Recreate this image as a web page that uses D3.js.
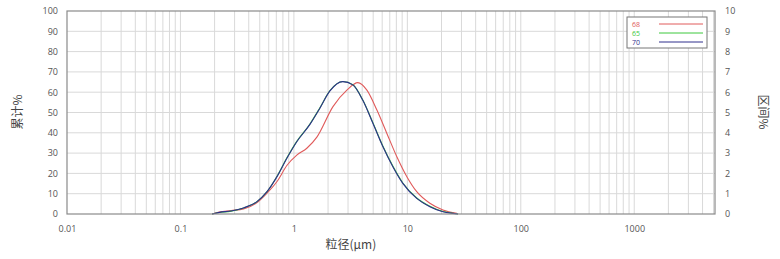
<!DOCTYPE html>
<html>
<head>
<meta charset="utf-8">
<script src="https://cdn.jsdelivr.net/npm/d3@7"></script>
<style>
  body { margin: 0; background: #fff; }
  text { font-family: "Noto Sans CJK SC", "Open Sans", sans-serif; }
</style>
</head>
<body>
<svg id="chart" width="780" height="259"></svg>
<script>
// series data: particle size (um) and interval %
var sizes68 = [0.19, 0.22, 0.28, 0.36, 0.47, 0.58, 0.71, 0.87, 1.06, 1.30, 1.60, 2.21, 2.93, 3.66, 4.40, 5.39, 6.60, 8.08, 9.90, 12.1, 15.8, 20.6, 27.3];
var vals68  = [0, 0.1, 0.17, 0.25, 0.55, 1.03, 1.6, 2.4, 2.9, 3.24, 3.8, 5.29, 6.1, 6.47, 6.1, 5.12, 3.97, 2.82, 1.84, 1.1, 0.53, 0.2, 0.03];
var sizes65 = [0.19, 0.22, 0.28, 0.36, 0.47, 0.58, 0.71, 0.87, 1.06, 1.38, 1.69, 2.07, 2.70, 3.31, 4.05, 4.97, 6.08, 7.45, 9.12, 12.1, 15.8, 20.6, 25.2, 28];
var vals65  = [0, 0.07, 0.14, 0.3, 0.6, 1.1, 1.86, 2.78, 3.58, 4.42, 5.22, 6.07, 6.53, 6.37, 5.62, 4.5, 3.35, 2.36, 1.53, 0.79, 0.38, 0.12, 0.04, 0];
var sizes70 = [0.19, 0.22, 0.28, 0.36, 0.47, 0.58, 0.71, 0.87, 1.06, 1.38, 1.69, 2.07, 2.70, 3.31, 4.05, 4.97, 6.08, 7.45, 9.12, 12.1, 15.8, 20.6, 25.2, 28];
var vals70  = [0, 0.08, 0.15, 0.3, 0.6, 1.1, 1.84, 2.76, 3.56, 4.4, 5.2, 6.05, 6.52, 6.36, 5.6, 4.47, 3.32, 2.33, 1.51, 0.77, 0.36, 0.11, 0.03, 0];
var seriesNames = ['68', '65', '70'];
var seriesColors = ['#e05a5a', '#3cc83c', '#2e2e8c'];
var xTickVals = [0.01, 0.1, 1, 10, 100, 1000];
var xTickLbls = ['0.01', '0.1', '1', '10', '100', '1000'];
var leftTicks = [0, 10, 20, 30, 40, 50, 60, 70, 80, 90, 100];
var rightTicks = [0, 1, 2, 3, 4, 5, 6, 7, 8, 9, 10];

var svg = d3.select('#chart'),
    margin = { left: 67, top: 11, right: 65, bottom: 45 },
    width = 780 - margin.left - margin.right,
    height = 259 - margin.top - margin.bottom;

var x = d3.scaleLog().domain([0.01, 5150]).range([0, width]);
var yL = d3.scaleLinear().domain([0, 100]).range([height, 0]);
var yR = d3.scaleLinear().domain([0, 10]).range([height, 0]);

var g = svg.append('g').attr('transform', 'translate(' + margin.left + ',' + margin.top + ')');

// vertical grid: 1..9 in every decade
var gridX = [];
for (var d = -2; d <= 3; d++) {
    for (var m = 1; m <= 9; m++) {
        var v = m * Math.pow(10, d);
        if (v > 0.01 && v < 5150) gridX.push(v);
    }
}
g.append('g').selectAll('line')
    .data(gridX)
    .enter().append('line')
    .attr('x1', function (d) { return x(d); })
    .attr('x2', function (d) { return x(d); })
    .attr('y1', 0)
    .attr('y2', height)
    .attr('stroke', '#d9d9d9')
    .attr('stroke-width', 1);

// horizontal grid
g.append('g').selectAll('line')
    .data(leftTicks.slice(1, -1))
    .enter().append('line')
    .attr('x1', 0)
    .attr('x2', width)
    .attr('y1', function (d) { return yL(d); })
    .attr('y2', function (d) { return yL(d); })
    .attr('stroke', '#d9d9d9')
    .attr('stroke-width', 1);

// curves
var line = d3.line()
    .x(function (d) { return x(d[0]); })
    .y(function (d) { return yR(d[1]); })
    .curve(d3.curveMonotoneX);
var series = [
    d3.zip(sizes68, vals68),
    d3.zip(sizes65, vals65),
    d3.zip(sizes70, vals70)
];
g.append('g').selectAll('path')
    .data(series)
    .enter().append('path')
    .attr('d', line)
    .attr('fill', 'none')
    .attr('stroke', function (d, i) { return seriesColors[i]; })
    .attr('stroke-width', 1.1);

// frame
g.append('rect')
    .attr('width', width)
    .attr('height', height)
    .attr('fill', 'none')
    .attr('stroke', '#8a8a8a')
    .attr('stroke-width', 1.2);

// axes (ticks hidden, labels only)
var xAxis = g.append('g')
    .attr('transform', 'translate(0,' + (height + 9) + ')')
    .call(d3.axisBottom(x).tickValues(xTickVals).tickFormat(function (d, i) { return xTickLbls[i]; }).tickSize(0));
var lAxis = g.append('g')
    .attr('transform', 'translate(-6,0)')
    .call(d3.axisLeft(yL).tickValues(leftTicks).tickSize(0));
var rAxis = g.append('g')
    .attr('transform', 'translate(' + (width + 7) + ',0)')
    .call(d3.axisRight(yR).tickValues(rightTicks).tickSize(0));
[xAxis, lAxis, rAxis].forEach(function (a) {
    a.select('.domain').remove();
    a.selectAll('text').attr('fill', '#555').style('font-size', '9px')
        .style('font-family', '"Open Sans", sans-serif');
});

// axis titles
svg.append('text')
    .attr('x', margin.left + x(1) + 57)
    .attr('y', 249)
    .attr('text-anchor', 'middle')
    .attr('fill', '#444')
    .style('font-size', '12px')
    .text('粒径(μm)');
svg.append('text')
    .attr('transform', 'translate(22,112) rotate(-90)')
    .attr('text-anchor', 'middle')
    .attr('fill', '#444')
    .style('font-size', '12px')
    .text('累计%');
svg.append('text')
    .attr('transform', 'translate(759,112) rotate(90)')
    .attr('text-anchor', 'middle')
    .attr('fill', '#444')
    .style('font-size', '12px')
    .text('区间%');

// legend
var legend = g.append('g').attr('transform', 'translate(' + (width - 88) + ',6)');
legend.append('rect')
    .attr('width', 80)
    .attr('height', 31)
    .attr('fill', '#fff')
    .attr('stroke', '#777')
    .attr('stroke-width', 1);
var item = legend.selectAll('.item')
    .data(seriesNames)
    .enter().append('g')
    .attr('class', 'item')
    .attr('transform', function (d, i) { return 'translate(0,' + (7 + i * 9) + ')'; });
item.append('text')
    .attr('x', 5)
    .attr('y', 2.5)
    .attr('fill', function (d, i) { return seriesColors[i]; })
    .style('font-size', '7px')
    .style('font-family', '"Open Sans", sans-serif')
    .text(function (d) { return d; });
item.append('line')
    .attr('x1', 32)
    .attr('x2', 76)
    .attr('stroke', function (d, i) { return seriesColors[i]; })
    .attr('stroke-width', 1);
</script>
</body>
</html>
